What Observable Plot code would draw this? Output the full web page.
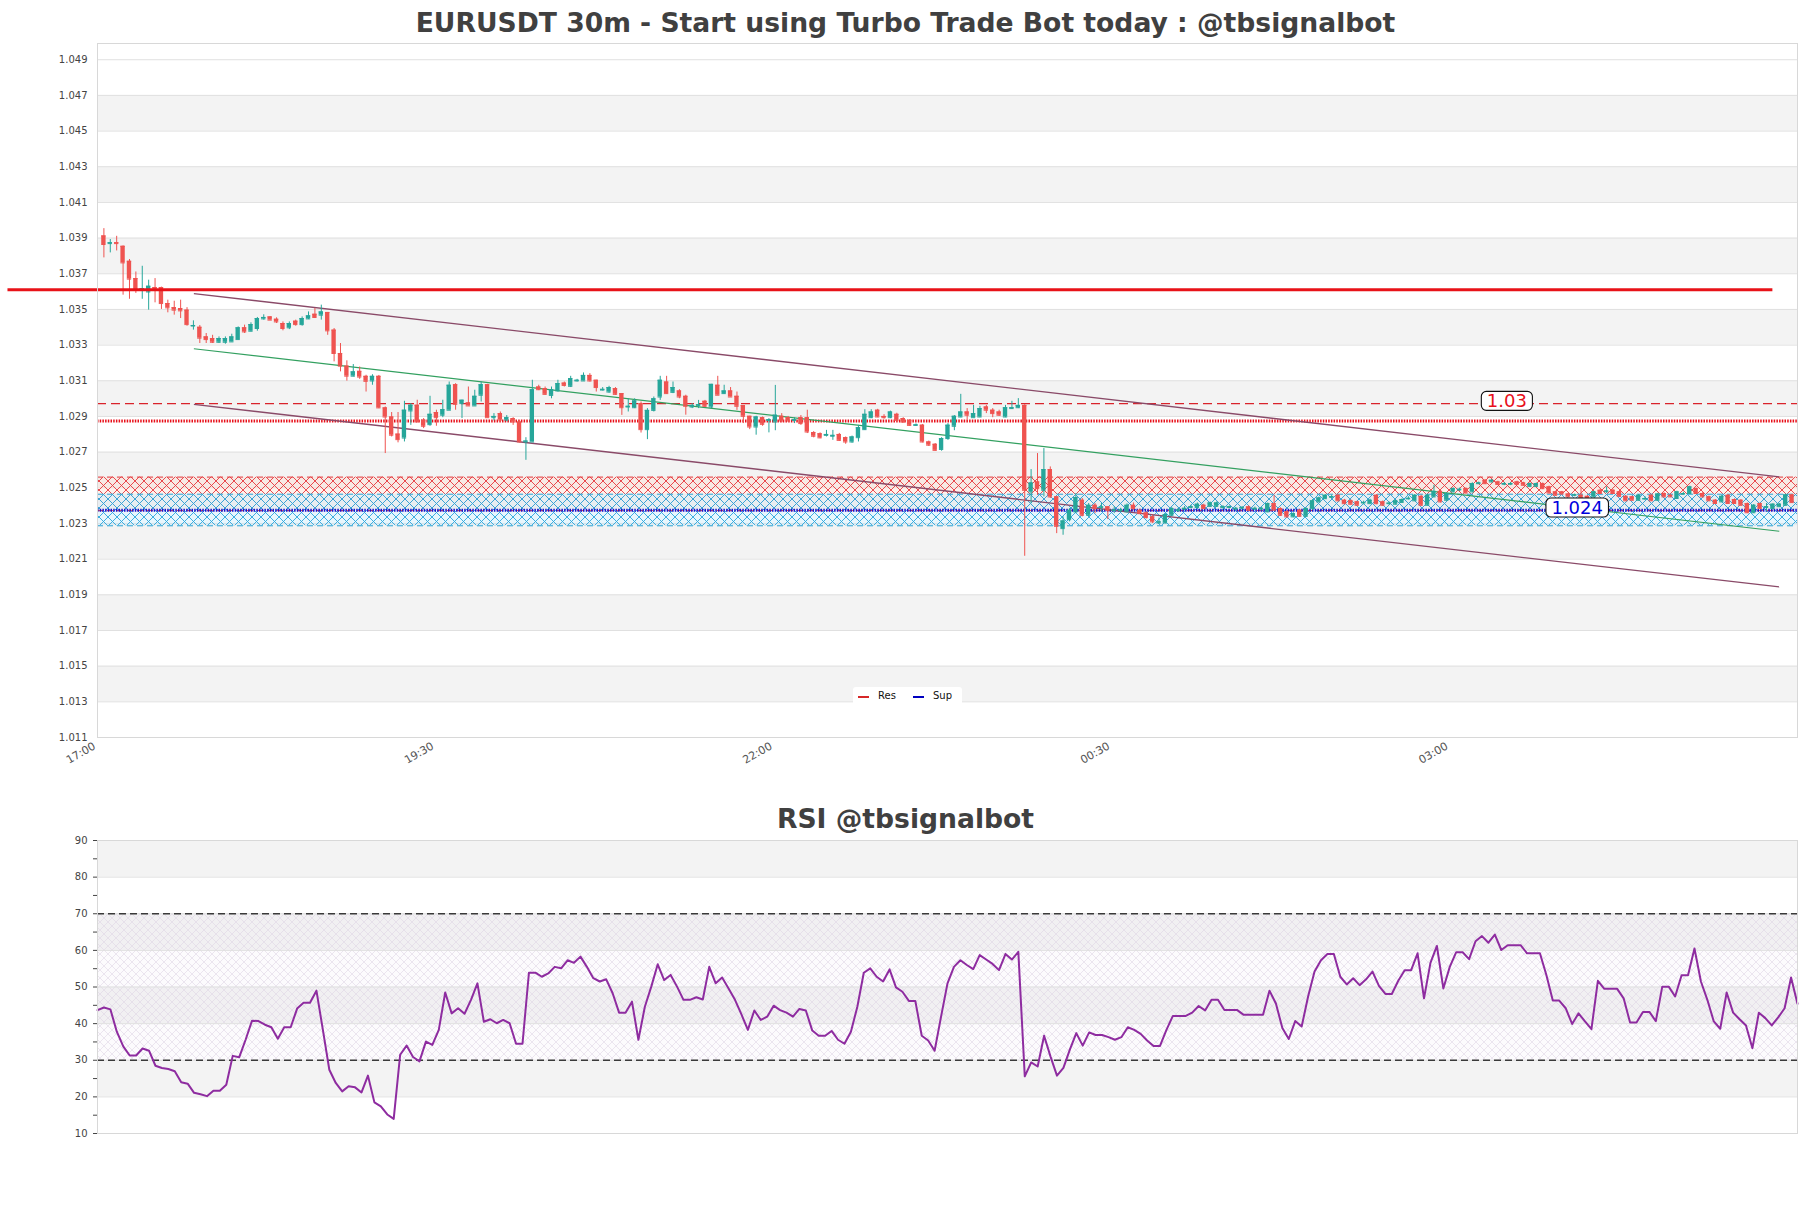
<!DOCTYPE html>
<html><head><meta charset="utf-8">
<script src="https://cdn.jsdelivr.net/npm/d3@7"></script>
<script src="https://cdn.jsdelivr.net/npm/@observablehq/plot@0.6"></script>
<style>
html,body{margin:0;padding:0;background:#fff;}
#wrap{position:relative;width:1811px;height:1208px;overflow:hidden;font-family:"DejaVu Sans",sans-serif;background:#fff;}
.ttl{position:absolute;left:0;width:1811px;text-align:center;font-weight:bold;font-size:26.6px;line-height:32px;color:#404040;}
.plotbox{position:absolute;left:0;}
#legend{position:absolute;left:853px;top:687px;width:109px;height:19px;background:#fff;border-radius:3px;font-size:10px;color:#111;}
#legend span{position:absolute;}
</style></head>
<body><div id="wrap">
<div class="ttl" id="t1" style="top:7px"></div>
<div class="plotbox" id="mainBox" style="top:40px"></div>
<div class="ttl" id="t2" style="top:803px"></div>
<div class="plotbox" id="rsiBox" style="top:830px"></div>
<div id="legend"></div>
</div>
<script>
const mainTitle = "EURUSDT 30m - Start using Turbo Trade Bot today : @tbsignalbot";
const rsiTitle = "RSI @tbsignalbot";
const legendItems = [{label: "Res", color: "#d62728"}, {label: "Sup", color: "#0000c0"}];

const open = [
1.03912,1.03869,1.03874,1.03854,1.03770,1.03673,1.03613,1.03598,1.03623,1.03623,
1.03533,1.03510,1.03505,1.03496,1.03407,1.03400,1.03346,1.03337,1.03316,1.03316,
1.03318,1.03331,1.03397,1.03378,1.03393,1.03447,1.03458,1.03445,1.03421,1.03397,
1.03434,1.03415,1.03447,1.03473,1.03468,1.03483,1.03384,1.03253,1.03182,1.03126,
1.03153,1.03125,1.03099,1.03125,1.02948,1.02897,1.02801,1.02779,1.02931,1.02963,
1.02879,1.02854,1.02922,1.02907,1.02935,1.03078,1.02972,1.02976,1.02959,1.03019,
1.03078,1.02893,1.02916,1.02880,1.02888,1.02869,1.02757,1.02757,1.03065,1.03056,
1.03018,1.03043,1.03087,1.03069,1.03099,1.03099,1.03130,1.03103,1.03048,1.03037,
1.03056,1.03028,1.02953,1.02949,1.02972,1.02826,1.02934,1.03009,1.03093,1.03035,
1.03043,1.03013,1.02953,1.02962,1.02985,1.02953,1.03075,1.03028,1.03043,1.03013,
1.02961,1.02901,1.02841,1.02893,1.02878,1.02869,1.02901,1.02893,1.02878,1.02893,
1.02893,1.02810,1.02803,1.02794,1.02789,1.02799,1.02781,1.02757,1.02781,1.02826,
1.02893,1.02935,1.02900,1.02893,1.02912,1.02888,1.02878,1.02850,1.02851,1.02757,
1.02744,1.02715,1.02776,1.02845,1.02897,1.02925,1.02893,1.02897,1.02953,1.02935,
1.02925,1.02897,1.02944,1.02949,1.02962,1.02477,1.02533,1.02486,1.02602,1.02449,
1.02271,1.02321,1.02365,1.02430,1.02346,1.02402,1.02390,1.02393,1.02372,1.02372,
1.02365,1.02402,1.02374,1.02359,1.02337,1.02303,1.02303,1.02346,1.02372,1.02381,
1.02390,1.02389,1.02402,1.02396,1.02396,1.02390,1.02390,1.02381,1.02386,1.02393,
1.02381,1.02381,1.02365,1.02411,1.02383,1.02365,1.02337,1.02374,1.02340,1.02383,
1.02421,1.02439,1.02447,1.02458,1.02430,1.02427,1.02421,1.02415,1.02411,1.02458,
1.02421,1.02411,1.02408,1.02418,1.02438,1.02427,1.02452,1.02402,1.02449,1.02480,
1.02430,1.02477,1.02488,1.02495,1.02477,1.02523,1.02542,1.02533,1.02533,1.02520,
1.02520,1.02533,1.02527,1.02508,1.02508,1.02523,1.02505,1.02477,1.02477,1.02465,
1.02458,1.02458,1.02452,1.02449,1.02486,1.02478,1.02486,1.02477,1.02452,1.02449,
1.02430,1.02437,1.02458,1.02430,1.02468,1.02458,1.02440,1.02465,1.02468,1.02495,
1.02468,1.02449,1.02430,1.02421,1.02458,1.02434,1.02430,1.02411,1.02360,1.02411,
1.02390,1.02383,1.02394,1.02402,1.02460];

const high = [
1.03953,1.03892,1.03910,1.03856,1.03780,1.03710,1.03742,1.03664,1.03673,1.03625,
1.03552,1.03546,1.03552,1.03510,1.03436,1.03410,1.03365,1.03355,1.03346,1.03346,
1.03361,1.03402,1.03412,1.03425,1.03455,1.03470,1.03460,1.03453,1.03430,1.03430,
1.03440,1.03458,1.03486,1.03505,1.03524,1.03483,1.03393,1.03309,1.03212,1.03191,
1.03177,1.03131,1.03134,1.03130,1.02953,1.02922,1.02922,1.02985,1.02972,1.02991,
1.02888,1.03013,1.02935,1.02991,1.03093,1.03084,1.02991,1.03065,1.03047,1.03093,
1.03080,1.02916,1.02925,1.02905,1.02893,1.02875,1.02781,1.03103,1.03075,1.03065,
1.03065,1.03103,1.03093,1.03125,1.03108,1.03144,1.03140,1.03103,1.03062,1.03069,
1.03062,1.03028,1.02999,1.02999,1.02981,1.02944,1.03009,1.03125,1.03125,1.03093,
1.03050,1.03019,1.02972,1.02990,1.02990,1.03080,1.03125,1.03075,1.03062,1.03037,
1.02961,1.02901,1.02901,1.02897,1.02888,1.03074,1.02916,1.02900,1.02893,1.02905,
1.02935,1.02815,1.02808,1.02822,1.02822,1.02805,1.02785,1.02790,1.02850,1.02938,
1.02938,1.02940,1.02910,1.02930,1.02918,1.02893,1.02882,1.02858,1.02855,1.02762,
1.02748,1.02781,1.02860,1.02905,1.03024,1.02944,1.02962,1.02957,1.02962,1.02944,
1.02935,1.02962,1.02985,1.03000,1.02966,1.02602,1.02692,1.02720,1.02617,1.02449,
1.02337,1.02383,1.02468,1.02440,1.02412,1.02412,1.02412,1.02393,1.02393,1.02385,
1.02410,1.02415,1.02380,1.02365,1.02346,1.02330,1.02355,1.02390,1.02385,1.02395,
1.02402,1.02415,1.02408,1.02420,1.02420,1.02400,1.02398,1.02390,1.02395,1.02398,
1.02392,1.02390,1.02415,1.02458,1.02388,1.02370,1.02360,1.02378,1.02388,1.02434,
1.02448,1.02462,1.02458,1.02462,1.02435,1.02432,1.02425,1.02425,1.02436,1.02462,
1.02426,1.02420,1.02432,1.02438,1.02450,1.02462,1.02458,1.02462,1.02514,1.02484,
1.02472,1.02500,1.02498,1.02500,1.02528,1.02532,1.02546,1.02546,1.02537,1.02530,
1.02530,1.02537,1.02531,1.02527,1.02527,1.02527,1.02509,1.02481,1.02480,1.02469,
1.02465,1.02500,1.02456,1.02481,1.02496,1.02505,1.02490,1.02481,1.02456,1.02453,
1.02462,1.02450,1.02462,1.02469,1.02472,1.02462,1.02481,1.02475,1.02509,1.02499,
1.02472,1.02453,1.02434,1.02456,1.02462,1.02438,1.02434,1.02415,1.02406,1.02415,
1.02412,1.02410,1.02412,1.02464,1.02464];

const low = [
1.03789,1.03817,1.03828,1.03580,1.03557,1.03590,1.03557,1.03496,1.03537,1.03500,
1.03481,1.03468,1.03449,1.03406,1.03384,1.03309,1.03309,1.03309,1.03309,1.03305,
1.03318,1.03328,1.03365,1.03374,1.03378,1.03440,1.03440,1.03421,1.03380,1.03387,
1.03406,1.03406,1.03443,1.03449,1.03440,1.03355,1.03206,1.03150,1.03098,1.03122,
1.03108,1.03037,1.03075,1.02944,1.02692,1.02785,1.02752,1.02757,1.02850,1.02864,
1.02832,1.02845,1.02845,1.02893,1.02935,1.02935,1.02888,1.02959,1.02959,1.02981,
1.02893,1.02875,1.02870,1.02870,1.02850,1.02752,1.02654,1.02757,1.03045,1.03018,
1.02999,1.03037,1.03065,1.03062,1.03093,1.03099,1.03093,1.03037,1.03043,1.03030,
1.03018,1.02906,1.02925,1.02944,1.02807,1.02770,1.02925,1.02990,1.03024,1.03028,
1.02999,1.02907,1.02944,1.02944,1.02950,1.02944,1.03019,1.03024,1.03009,1.02934,
1.02860,1.02826,1.02795,1.02845,1.02808,1.02820,1.02865,1.02868,1.02860,1.02850,
1.02804,1.02780,1.02775,1.02785,1.02766,1.02760,1.02744,1.02750,1.02757,1.02823,
1.02888,1.02893,1.02885,1.02888,1.02872,1.02862,1.02845,1.02845,1.02752,1.02732,
1.02705,1.02705,1.02766,1.02820,1.02893,1.02880,1.02893,1.02893,1.02916,1.02893,
1.02900,1.02893,1.02939,1.02944,1.02116,1.02411,1.02458,1.02449,1.02440,1.02243,
1.02234,1.02309,1.02355,1.02337,1.02337,1.02355,1.02365,1.02322,1.02355,1.02360,
1.02360,1.02374,1.02350,1.02325,1.02300,1.02295,1.02298,1.02340,1.02362,1.02370,
1.02383,1.02385,1.02378,1.02390,1.02390,1.02380,1.02382,1.02370,1.02376,1.02370,
1.02372,1.02370,1.02360,1.02370,1.02340,1.02330,1.02332,1.02335,1.02335,1.02374,
1.02418,1.02435,1.02440,1.02422,1.02405,1.02402,1.02397,1.02405,1.02408,1.02405,
1.02397,1.02402,1.02404,1.02415,1.02432,1.02424,1.02397,1.02398,1.02445,1.02415,
1.02425,1.02472,1.02480,1.02465,1.02472,1.02518,1.02518,1.02528,1.02514,1.02512,
1.02512,1.02515,1.02510,1.02504,1.02504,1.02490,1.02466,1.02454,1.02460,1.02445,
1.02450,1.02430,1.02430,1.02445,1.02462,1.02468,1.02464,1.02448,1.02423,1.02427,
1.02426,1.02430,1.02423,1.02426,1.02445,1.02445,1.02436,1.02458,1.02464,1.02464,
1.02445,1.02423,1.02408,1.02417,1.02408,1.02408,1.02398,1.02356,1.02356,1.02379,
1.02365,1.02379,1.02390,1.02398,1.02413];

const close = [
1.03864,1.03874,1.03869,1.03761,1.03670,1.03608,1.03617,1.03630,1.03613,1.03533,
1.03509,1.03496,1.03492,1.03415,1.03410,1.03339,1.03331,1.03316,1.03337,1.03337,
1.03346,1.03397,1.03374,1.03415,1.03449,1.03455,1.03440,1.03430,1.03393,1.03421,
1.03415,1.03449,1.03464,1.03455,1.03486,1.03380,1.03253,1.03182,1.03126,1.03150,
1.03121,1.03097,1.03125,1.02948,1.02897,1.02795,1.02770,1.02935,1.02963,1.02870,
1.02845,1.02912,1.02893,1.02938,1.03075,1.02968,1.02991,1.02959,1.03013,1.03078,
1.02893,1.02900,1.02880,1.02893,1.02869,1.02757,1.02762,1.03050,1.03050,1.03024,
1.03050,1.03084,1.03074,1.03112,1.03103,1.03130,1.03099,1.03062,1.03052,1.03062,
1.03024,1.02949,1.02957,1.02987,1.02826,1.02934,1.02999,1.03103,1.03028,1.03062,
1.03009,1.02957,1.02962,1.02966,1.02957,1.03080,1.03019,1.03043,1.03009,1.02957,
1.02901,1.02841,1.02897,1.02856,1.02882,1.02907,1.02875,1.02875,1.02882,1.02860,
1.02813,1.02789,1.02780,1.02799,1.02794,1.02766,1.02757,1.02785,1.02837,1.02912,
1.02925,1.02897,1.02893,1.02925,1.02878,1.02869,1.02850,1.02853,1.02757,1.02739,
1.02710,1.02776,1.02851,1.02901,1.02925,1.02907,1.02916,1.02944,1.02935,1.02916,
1.02907,1.02949,1.02949,1.02962,1.02486,1.02527,1.02495,1.02602,1.02449,1.02284,
1.02314,1.02374,1.02445,1.02346,1.02402,1.02383,1.02393,1.02374,1.02376,1.02376,
1.02402,1.02383,1.02355,1.02333,1.02309,1.02309,1.02350,1.02383,1.02376,1.02385,
1.02394,1.02408,1.02383,1.02415,1.02415,1.02394,1.02394,1.02385,1.02390,1.02374,
1.02385,1.02385,1.02411,1.02374,1.02346,1.02337,1.02355,1.02340,1.02383,1.02427,
1.02443,1.02458,1.02451,1.02427,1.02411,1.02408,1.02402,1.02418,1.02430,1.02411,
1.02402,1.02414,1.02427,1.02434,1.02441,1.02458,1.02402,1.02458,1.02480,1.02421,
1.02468,1.02495,1.02492,1.02471,1.02523,1.02527,1.02523,1.02542,1.02519,1.02524,
1.02524,1.02519,1.02514,1.02523,1.02523,1.02495,1.02471,1.02458,1.02465,1.02449,
1.02461,1.02434,1.02434,1.02477,1.02468,1.02482,1.02468,1.02452,1.02427,1.02430,
1.02458,1.02440,1.02427,1.02465,1.02449,1.02449,1.02477,1.02468,1.02505,1.02468,
1.02449,1.02427,1.02412,1.02452,1.02412,1.02412,1.02402,1.02360,1.02402,1.02383,
1.02394,1.02408,1.02408,1.02460,1.02417];

const rsi = [
43.7,44.4,43.9,37.8,33.8,31.3,31.3,33.2,32.6,28.5,
27.9,27.6,27.0,24.0,23.6,21.1,20.7,20.2,21.7,21.7,
23.3,31.2,30.8,35.6,40.8,40.7,39.7,39.0,35.9,39.0,
39.0,44.1,45.7,45.7,49.0,38.3,27.4,23.8,21.5,22.9,
22.6,21.2,25.8,18.5,17.4,15.2,14.0,31.5,34.0,30.9,
29.7,35.1,34.2,38.3,48.5,42.8,44.2,42.7,46.5,51.0,
40.5,41.2,40.1,41.0,40.1,34.5,34.5,53.9,53.9,52.8,
53.7,55.5,55.1,57.3,56.6,58.3,55.5,52.4,51.5,52.1,
48.3,43.0,43.0,46.0,35.6,44.6,50.1,56.2,51.9,53.3,
50.1,46.5,46.5,47.2,46.6,55.5,51.0,52.6,49.6,46.5,
42.5,38.3,43.6,41.0,41.9,44.9,43.7,43.0,41.9,44.0,
43.6,38.1,36.7,36.7,38.0,35.6,34.5,37.8,44.6,53.9,
55.1,52.8,51.5,54.8,49.9,48.7,46.2,46.2,36.7,35.4,
32.6,41.9,51.0,55.5,57.3,56.0,54.9,58.7,57.5,56.3,
54.6,59.0,57.5,59.6,25.6,29.4,28.3,36.7,31.0,25.8,
27.9,32.9,37.4,34.0,37.6,36.9,36.9,36.3,35.6,36.3,
39.0,38.3,37.2,35.4,33.9,33.9,38.3,42.1,42.1,42.1,
43.0,44.8,43.6,46.5,46.5,43.7,43.7,43.7,42.4,42.4,
42.4,42.4,49.0,45.5,38.8,35.8,40.7,39.2,47.4,54.2,
57.3,59.0,59.0,52.8,50.7,52.4,50.5,52.1,54.2,50.3,
48.1,48.1,51.7,54.6,54.6,59.2,46.9,56.6,61.2,49.6,
55.5,59.5,59.5,57.6,62.5,63.9,62.1,64.3,60.1,61.4,
61.4,61.4,59.2,59.2,59.2,53.3,46.3,46.3,44.2,39.9,
42.8,40.6,38.5,51.7,49.5,49.5,49.5,46.9,40.3,40.3,
43.2,43.2,40.7,50.1,50.1,47.4,53.2,53.2,60.5,51.5,
46.5,40.6,38.6,48.5,43.0,41.2,39.5,33.3,43.0,41.5,
39.5,41.7,44.2,52.6,45.4];

// axis ticks and labels
const priceTicks = [1.011,1.013,1.015,1.017,1.019,1.021,1.023,1.025,1.027,1.029,1.031,1.033,1.035,1.037,1.039,1.041,1.043,1.045,1.047,1.049];
const timeTickIdx = [-1, 51.9, 104.8, 157.6, 210.5];
const timeTickLabels = ["17:00", "19:30", "22:00", "00:30", "03:00"];
const rsiTicks = [10,20,30,40,50,60,70,80,90];
const rsiMinorTicks = [10,15,20,25,30,35,40,45,50,55,60,65,70,75,80,85,90];

// levels, zones and trend channel
const strongRes = [{y: 1.0361, x1: -15, x2: 261}];
const resLevel = 1.02972;
const resDotLevel = 1.02874;
const supLevel = 1.02374;
const resZone = {lo: 1.02372, hi: 1.02560};
const supZone = {lo: 1.02287, hi: 1.02464};
const channelOuter = [
  {x1: 14.07, y1: 1.03589, x2: 262.0, y2: 1.02561},
  {x1: 14.07, y1: 1.02968, x2: 262.0, y2: 1.01944}];
const channelMid = [{x1: 14.07, y1: 1.03280, x2: 262.0, y2: 1.02256}];
const levelLabels = [
  {x: 219.4, y: 1.02972, text: "1.03", color: "#e8101a"},
  {x: 230.4, y: 1.02374, text: "1.024", color: "#0000dd"}];
const rsiBounds = [70, 30];

// ---------- build ----------
document.getElementById("t1").textContent = mainTitle;
document.getElementById("t2").textContent = rsiTitle;

const GREEN = "#26a69a", RED = "#ef5350";
const candles = open.map((o, i) => ({i, o, h: high[i], l: low[i], c: close[i]}));
const upC = candles.filter(d => d.c >= d.o);
const dnC = candles.filter(d => d.c < d.o);
const bw = 0.34;

const mainBands = [];
for (let k = 1; k + 1 < priceTicks.length; k += 2) mainBands.push({a: priceTicks[k], b: priceTicks[k + 1]});
const rsiBands = [];
for (let k = 1; k + 1 < rsiTicks.length; k += 2) rsiBands.push({a: rsiTicks[k], b: rsiTicks[k + 1]});

const baseStyle = {fontFamily: "'DejaVu Sans', sans-serif", fontSize: "10px", color: "#444", background: "transparent"};

function candleMarks(data, col) {
  return [
    Plot.ruleX(data, {x: "i", y1: "l", y2: "h", stroke: col, strokeWidth: 1}),
    Plot.rect(data, {x1: d => d.i - bw, x2: d => d.i + bw, y1: "o", y2: "c", fill: col}),
    Plot.ruleY(data, {y: "c", x1: d => d.i - bw, x2: d => d.i + bw, stroke: col, strokeWidth: 1}),
    Plot.ruleY(data, {y: "o", x1: d => d.i - bw, x2: d => d.i + bw, stroke: col, strokeWidth: 1})
  ];
}

const mainSvg = Plot.plot({
  width: 1811, height: 747,
  marginLeft: 97, marginRight: 14, marginTop: 3, marginBottom: 50,
  style: baseStyle,
  x: {domain: [-1, 264.85], axis: null},
  y: {domain: [1.011, 1.04991], ticks: priceTicks, tickFormat: d3.format(".3f"), tickSize: 0, tickPadding: 10, label: null},
  marks: [
    Plot.rect(mainBands, {y1: "a", y2: "b", fill: "#f3f3f3"}),
    Plot.ruleY(priceTicks, {stroke: "#e0e0e0", strokeWidth: 1}),
    Plot.rect([resZone], {y1: "lo", y2: "hi", fill: "url(#hatchRes)"}),
    Plot.rect([supZone], {y1: "lo", y2: "hi", fill: "url(#hatchSup)"}),
    Plot.ruleY([resZone.hi, resZone.lo], {stroke: "#e23a3f", strokeDasharray: "6,4", strokeWidth: 1}),
    Plot.ruleY([supZone.hi, supZone.lo], {stroke: "#2ba3d6", strokeDasharray: "6,4", strokeWidth: 1}),
    Plot.ruleY([resLevel], {stroke: "#d9232b", strokeDasharray: "9,5", strokeWidth: 1.3}),
    Plot.ruleY([resDotLevel], {stroke: "#e8101a", strokeDasharray: "1.5,1.2", strokeWidth: 3}),
    Plot.ruleY([supLevel], {stroke: "#1a10cc", strokeDasharray: "1.5,1.2", strokeWidth: 3}),
    Plot.link(channelOuter, {x1: "x1", y1: "y1", x2: "x2", y2: "y2", stroke: "#8a4a68", strokeWidth: 1.3}),
    Plot.link(channelMid, {x1: "x1", y1: "y1", x2: "x2", y2: "y2", stroke: "#33a060", strokeWidth: 1.1}),
    ...candleMarks(upC, GREEN),
    ...candleMarks(dnC, RED),
    Plot.ruleY(strongRes, {y: "y", x1: "x1", x2: "x2", stroke: "#e81218", strokeWidth: 3}),
    Plot.text(levelLabels, {x: "x", y: "y", text: "text", fill: d => d.color, fontSize: 18, dy: -2}),
    Plot.text(timeTickIdx, {x: d => d, text: (d, i) => timeTickLabels[i], frameAnchor: "bottom", rotate: -30, textAnchor: "end", lineAnchor: "top", dy: 4, dx: -5, fill: "#555", fontSize: 11}),
    Plot.frame({stroke: "#d8d8d8"})
  ]
});

const rsiSvg = Plot.plot({
  width: 1811, height: 323,
  marginLeft: 97, marginRight: 14, marginTop: 10, marginBottom: 20,
  style: baseStyle,
  x: {domain: [0, rsi.length - 1], axis: null},
  y: {domain: [10, 90], ticks: rsiMinorTicks, tickFormat: d => rsiTicks.includes(d) ? String(d) : "", tickSize: 4, tickPadding: 6, label: null},
  marks: [
    Plot.rect(rsiBands, {y1: "a", y2: "b", fill: "#f3f3f3"}),
    Plot.rect([{lo: 30, hi: 70}], {y1: "lo", y2: "hi", fill: "url(#hatchRsi)"}),
    Plot.ruleY(rsiTicks, {stroke: "#e0e0e0", strokeWidth: 1}),
    Plot.ruleY(rsiBounds, {stroke: "#3a3a3a", strokeDasharray: "7,4", strokeWidth: 1.3}),
    Plot.line(rsi, {x: (d, i) => i, y: d => d, stroke: "#8e2ca0", strokeWidth: 2}),
    Plot.frame({stroke: "#d8d8d8"})
  ]
});

function addDefs(svg, html) {
  const defs = document.createElementNS("http://www.w3.org/2000/svg", "defs");
  defs.innerHTML = html;
  svg.insertBefore(defs, svg.firstChild);
}
addDefs(mainSvg,
  '<pattern id="hatchRes" patternUnits="userSpaceOnUse" width="9" height="9">' +
  '<rect width="9" height="9" fill="rgba(255,215,200,0.35)"/>' +
  '<path d="M-1,-1L10,10M10,-1L-1,10" stroke="#e8383d" stroke-width="0.9" fill="none"/></pattern>' +
  '<pattern id="hatchSup" patternUnits="userSpaceOnUse" width="9" height="9">' +
  '<rect width="9" height="9" fill="rgba(190,230,250,0.35)"/>' +
  '<path d="M-1,-1L10,10M10,-1L-1,10" stroke="#2aa6dc" stroke-width="0.9" fill="none"/></pattern>');
addDefs(rsiSvg,
  '<pattern id="hatchRsi" patternUnits="userSpaceOnUse" width="8" height="8">' +
  '<rect width="8" height="8" fill="rgba(215,195,230,0.07)"/>' +
  '<path d="M-1,-1L9,9M9,-1L-1,9" stroke="#dcd3e3" stroke-width="0.55" fill="none"/></pattern>');

document.getElementById("mainBox").appendChild(mainSvg);
document.getElementById("rsiBox").appendChild(rsiSvg);

// boxes behind level labels
const ns = "http://www.w3.org/2000/svg";
const labelTexts = levelLabels.map(d => d.text);
Array.from(mainSvg.querySelectorAll("text")).filter(t => labelTexts.includes(t.textContent.trim())).forEach(t => {
  const b = t.getBBox();
  const r = document.createElementNS(ns, "rect");
  r.setAttribute("x", b.x - 5.5);
  r.setAttribute("y", b.y + 1);
  r.setAttribute("width", b.width + 11);
  r.setAttribute("height", b.height - 2);
  r.setAttribute("rx", 5);
  r.setAttribute("fill", "#fff");
  r.setAttribute("stroke", "#111");
  r.setAttribute("stroke-width", 1.1);
  const tr = t.getAttribute("transform");
  if (tr) r.setAttribute("transform", tr);
  t.parentNode.insertBefore(r, t);
});

// legend
const lg = document.getElementById("legend");
legendItems.forEach((it, k) => {
  const line = document.createElement("span");
  line.style.cssText = `left:${5 + k * 55}px;top:9px;width:11px;height:2px;background:${it.color}`;
  const txt = document.createElement("span");
  txt.style.cssText = `left:${25 + k * 55}px;top:3px;`;
  txt.textContent = it.label;
  lg.appendChild(line); lg.appendChild(txt);
});
</script>
</body></html>
